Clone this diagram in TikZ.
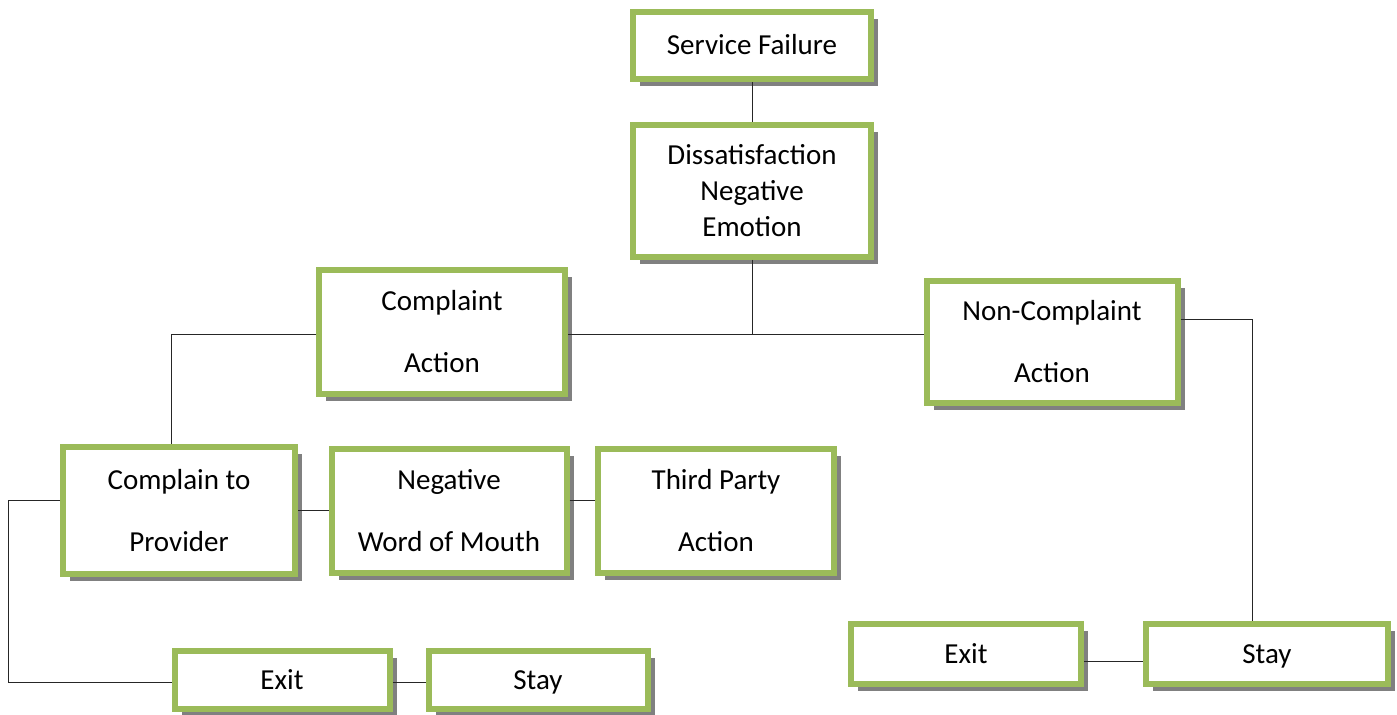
\documentclass[tikz,border=0pt]{standalone}
\usepackage{fontspec}
\setmainfont{Carlito}
\usetikzlibrary{positioning,shadows}
\definecolor{boxgreen}{HTML}{9BBB59}
\tikzset{>=latex}
\tikzset{box/.style={rectangle, draw=boxgreen, line width=3pt, fill=white, align=center, inner sep=0pt, font=\fontsize{14.5}{18}\selectfont, drop shadow={shadow xshift=3.5pt, shadow yshift=-3.5pt, fill=black!50, opacity=1}}}
\tikzset{onebox/.style={box, text height=11.5pt, text depth=2.5pt}}
\tikzset{link/.style={line width=0.5pt, draw=black!85}}

\begin{document}
\begin{tikzpicture}
      \useasboundingbox (0,0) rectangle (698.5pt,-357.5pt);
      \node[onebox, minimum width=119pt, minimum height=33.5pt] (sf) at (376pt,-23pt) {Service Failure};
      \node[box, below of=sf, node distance=72.5pt, minimum width=119pt, minimum height=66pt, text depth=1pt] (diss) {Dissatisfaction\\Negative\\Emotion};
      \node[box, minimum width=123pt, minimum height=62pt] (ca) at (221pt,-166pt) {Complaint\\[13pt]Action};
      \node[box, minimum width=125.5pt, minimum height=61pt] (nca) at (526pt,-171pt) {Non-Complaint\\[13pt]Action};
      \node[box, minimum width=116pt, minimum height=63.5pt] (ctp) at (89.5pt,-255.5pt) {Complain to\\[13pt]Provider};
      \node[box, right of=ctp, node distance=135pt, minimum width=117.5pt, minimum height=62pt] (nwom) {Negative\\[13pt]Word of Mouth};
      \node[box, right of=nwom, node distance=133.5pt, minimum width=118pt, minimum height=62pt] (tpa) {Third Party\\[13pt]Action};
      \node[onebox, minimum width=107.5pt, minimum height=29pt] (exitl) at (141pt,-340pt) {Exit};
      \node[onebox, right of=exitl, node distance=128pt, minimum width=109.5pt, minimum height=29pt] (stayl) {Stay};
      \node[onebox, minimum width=115pt, minimum height=30pt] (exitr) at (483pt,-327pt) {Exit};
      \node[onebox, right of=exitr, node distance=150.5pt, minimum width=121pt, minimum height=30pt] (stayr) {Stay};
      \draw[link] (sf) -- (diss);
      \coordinate[below of=diss, node distance=72pt] (aux1);
      \draw[link] (diss) -- (aux1);
      \draw[link] ([yshift=-1.5pt]ca.east) -- ([yshift=-1.5pt]nca.west |- ca.east);
      \draw[link] ([yshift=-1.5pt]ca.west) -| ([xshift=-4pt]ctp.north);
      \draw[link] (ctp) -- (nwom);
      \draw[link] ([yshift=5pt]nwom.east) -- ([yshift=5pt]tpa.west);
      \coordinate[left of=ctp, node distance=85.5pt] (aux2);
      \draw[link] ([yshift=5pt]ctp.west) -- ([yshift=5pt]aux2) |- ([yshift=-1pt]exitl.west);
      \draw[link] ([yshift=-1pt]exitl.east) -- ([yshift=-1pt]stayl.west);
      \draw[link] ([yshift=11pt]nca.east) -| ([xshift=-7.5pt]stayr.north);
      \draw[link] ([yshift=-3.5pt]exitr.east) -- ([yshift=-3.5pt]stayr.west);
    \end{tikzpicture}
\end{document}
